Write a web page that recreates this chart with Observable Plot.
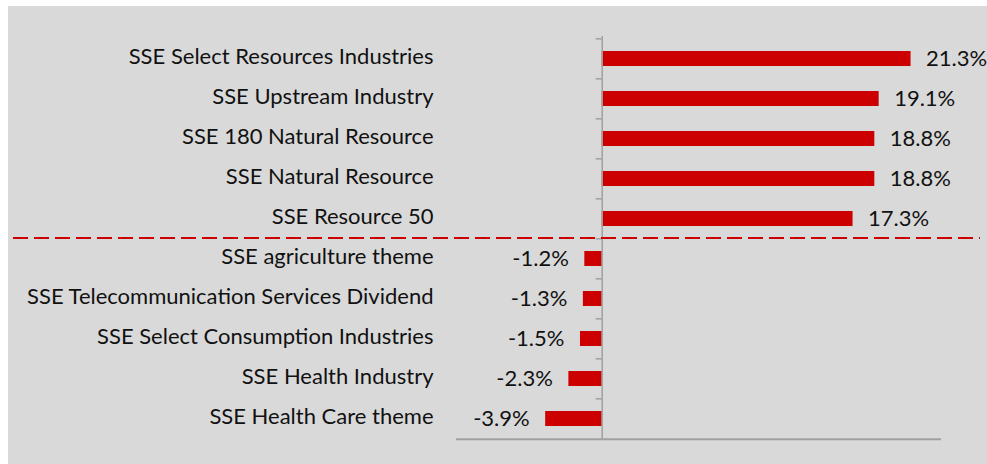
<!DOCTYPE html>
<html>
<head>
<meta charset="utf-8">
<script src="https://cdn.jsdelivr.net/npm/d3@7"></script>
<script src="https://cdn.jsdelivr.net/npm/@observablehq/plot@0.6"></script>
<style>
  html, body { margin: 0; padding: 0; background: #ffffff; }
  #chart { position: absolute; left: 8px; top: 6px; }
  #chart svg { background: #d9d9d9; display: block; }
</style>
</head>
<body>
<div id="chart"></div>
<script>
const categories = [
  "SSE Select Resources Industries",
  "SSE Upstream Industry",
  "SSE 180 Natural Resource",
  "SSE Natural Resource",
  "SSE Resource 50",
  "SSE agriculture theme",
  "SSE Telecommunication Services Dividend",
  "SSE Select Consumption Industries",
  "SSE Health Industry",
  "SSE Health Care theme"
];
const values = [21.3, 19.1, 18.8, 18.8, 17.3, -1.2, -1.3, -1.5, -2.3, -3.9];
const valueLabels = ["21.3%", "19.1%", "18.8%", "18.8%", "17.3%", "-1.2%", "-1.3%", "-1.5%", "-2.3%", "-3.9%"];
const groupBreakAfter = "SSE Resource 50";

const data = categories.map((c, i) => ({name: c, value: values[i], label: valueLabels[i]}));

const font = "Lato, 'Open Sans', sans-serif";
const red = "#cc0000";
const axisGray = "#a0a0a0";
const half = 20.2;

const chart = Plot.plot({
  width: 979,
  height: 458,
  marginLeft: 448,
  marginRight: 46,
  marginTop: 30,
  marginBottom: 24,
  style: {fontFamily: font, fontSize: "22px", color: "#111", background: "#d9d9d9"},
  x: {domain: [-10.05, 23.4], axis: null},
  y: {domain: categories, paddingInner: 0.63, paddingOuter: 0.315, label: null},
  marks: [
    Plot.axisY({anchor: "left", tickSize: 0, tickPadding: 23, fontSize: 22, fill: "#111", dy: -2}),
    Plot.barX(data, {x: "value", y: "name", fill: red}),
    Plot.ruleX([0], {stroke: axisGray, strokeWidth: 1.5}),
    Plot.ruleY(categories, {y: d => d, x1: 0, x2: 0, insetLeft: -6, dy: -half, stroke: axisGray, strokeWidth: 1.5}),
    Plot.ruleY([categories[categories.length - 1]], {dy: half, stroke: axisGray, strokeWidth: 2}),
    Plot.ruleY([groupBreakAfter], {dy: half - 1.3, insetLeft: -443, insetRight: -39, stroke: red, strokeWidth: 2, strokeDasharray: "15,6"}),
    Plot.text(data.filter(d => d.value >= 0), {x: "value", y: "name", text: "label", textAnchor: "start", dx: 15, dy: 0, fontSize: 22, fill: "#111"}),
    Plot.text(data.filter(d => d.value < 0), {x: "value", y: "name", text: "label", textAnchor: "end", dx: -16, dy: 0, fontSize: 22, fill: "#111"})
  ]
});
document.getElementById("chart").appendChild(chart);
</script>
</body>
</html>
